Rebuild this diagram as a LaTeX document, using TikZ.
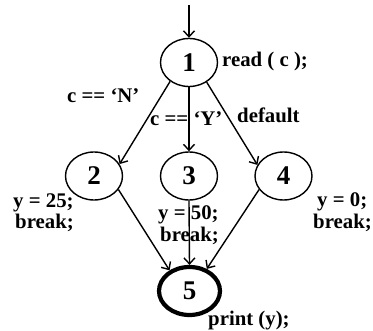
\documentclass[tikz,border=0pt]{standalone}
\usepackage{fontspec}
\setmainfont{Liberation Serif}
\usetikzlibrary{shapes.geometric,arrows.meta}
\begin{document}
\begin{tikzpicture}[x=1pt,y=-1pt,
  every node/.style={font=\bfseries},
  stnode/.style={draw,ellipse,line width=1.4pt,minimum width=57pt,minimum height=48pt,inner sep=0pt,font=\fontsize{27}{27}\selectfont\bfseries},
  endnode/.style={stnode,line width=4.2pt,minimum width=61pt,minimum height=48pt},
  lbl/.style={anchor=base west,inner sep=0pt,font=\fontsize{20.8}{22}\selectfont\bfseries},
  edge/.style={line width=1.4pt,-{Straight Barb[length=6pt,width=11pt,line width=1.4pt]}}]
\useasboundingbox (0,0) rectangle (373,331);
\node[stnode] (n1) at (189,62.5) {1};
\node[stnode] (n2) at (94,176) {2};
\node[stnode] (n3) at (189,176) {3};
\node[stnode] (n4) at (283.5,176) {4};
\node[endnode] (n5) at (189.5,291) {5};
\coordinate (top) at (189,5);
\draw[edge] (top) -- (n1.north);
\draw[edge] (n1.225.6) -- (n2.25.6);
\draw[edge] (n1.south) -- (n3.north);
\draw[edge] (n1.312) -- (n4.157.7);
\draw[edge] (n2.331.7) -- (n5.134);
\draw[edge] (n3.south) -- (n5.north);
\draw[edge] (n4.209.7) -- (n5.52);
\node[lbl] (l1) at (222,67) {read ( c );};
\node[lbl] (lN) at (67,103) {c == ‘N’};
\node[lbl] (lY) at (150,126) {c == ‘Y’};
\node[lbl] (ld) at (237,123) {default};
\node[lbl] (l2a) at (13,208) {y = 25;};
\node[lbl] (l2b) at (15,229) {break;};
\node[lbl] (l3a) at (158,220) {y = 50;};
\node[lbl] (l3b) at (160,242) {break;};
\node[lbl] (l4a) at (317,207) {y = 0;};
\node[lbl] (l4b) at (313,229) {break;};
\node[lbl] (l5) at (208,326) {print (y);};
\end{tikzpicture}
\end{document}
